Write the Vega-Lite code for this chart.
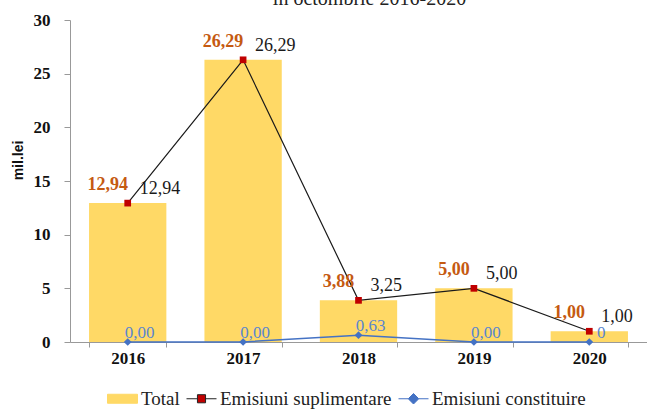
{
  "$schema": "https://vega.github.io/schema/vega-lite/v6.json",
  "width": 577,
  "height": 322,
  "autosize": {"type": "none"},
  "padding": {"left": 70, "top": 20, "right": 0, "bottom": 68},
  "config": {"view": {"stroke": null}},
  "data": {"values": [
    {"year": "2016", "total": 12.94, "constituire": 0, "lt": "12,94", "ls": "12,94", "lc": "0,00"},
    {"year": "2017", "total": 26.29, "constituire": 0, "lt": "26,29", "ls": "26,29", "lc": "0,00"},
    {"year": "2018", "total": 3.88, "constituire": 0.63, "lt": "3,88", "ls": "3,25", "lc": "0,63"},
    {"year": "2019", "total": 5.00, "constituire": 0, "lt": "5,00", "ls": "5,00", "lc": "0,00"},
    {"year": "2020", "total": 1.00, "constituire": 0, "lt": "1,00", "ls": "1,00", "lc": "0"}
  ]},
  "encoding": {
    "x": {"field": "year", "type": "ordinal", "scale": {"paddingInner": 0.33, "paddingOuter": 0.165},
      "axis": {"title": null, "labelAngle": 0, "labelFont": "Liberation Serif", "labelFontWeight": "bold", "labelFontSize": 17, "labelColor": "#111111", "tickBand": "extent", "tickSize": 5, "tickColor": "#999999", "domainColor": "#999999", "labelPadding": 3}}
  },
  "layer": [
    {"mark": {"type": "bar"},
     "encoding": {
       "y": {"field": "total", "type": "quantitative", "scale": {"domain": [0, 30], "nice": false},
         "axis": {"values": [0, 5, 10, 15, 20, 25, 30], "grid": false, "labelFont": "Liberation Serif", "labelFontWeight": "bold", "labelFontSize": 17, "labelColor": "#111111", "tickSize": 6, "labelPadding": 14, "tickColor": "#999999", "domainColor": "#999999", "title": "mil.lei", "titleFont": "Liberation Sans", "titleFontSize": 14, "titleFontWeight": "bold", "titleColor": "#111111", "titleX": -52, "titleY": 140, "titleAngle": 270, "titleAlign": "center", "titleBaseline": "middle"}},
       "color": {"datum": "Total", "type": "nominal",
         "scale": {"domain": ["Total", "Emisiuni suplimentare", "Emisiuni constituire"], "range": ["#FFD966", "#C00000", "#4472C4"]},
         "legend": {"title": null, "orient": "none", "legendX": 37, "legendY": 363, "direction": "horizontal", "labelFont": "Liberation Serif", "labelFontSize": 19, "labelColor": "#222222", "labelLimit": 400, "symbolSize": 900, "columnPadding": 4, "labelOffset": 3,
           "encode": {"symbols": {"update": {
             "shape": {"signal": "datum.value === 'Total' ? 'M-1,-0.3H1V0.3H-1Z' : datum.value === 'Emisiuni suplimentare' ? 'M-1,0H-0.27M0.27,0H1M-0.27,-0.27H0.27V0.27H-0.27Z' : 'M-1,0H-0.35M0.35,0H1M0,-0.35L0.35,0L0,0.35L-0.35,0Z'"},
             "fill": {"signal": "datum.value === 'Total' ? '#FFD966' : datum.value === 'Emisiuni suplimentare' ? '#C00000' : '#4472C4'"},
             "stroke": {"signal": "datum.value === 'Total' ? '#FFD966' : datum.value === 'Emisiuni suplimentare' ? '#222222' : '#4472C4'"},
             "strokeWidth": {"value": 1},
             "opacity": {"value": 1}
           }}}}}
     }},
    {"mark": {"type": "line", "stroke": "#1a1a1a", "strokeWidth": 1.2},
     "encoding": {"y": {"field": "total", "type": "quantitative"}}},
    {"mark": {"type": "line", "stroke": "#4472C4", "strokeWidth": 1.5},
     "encoding": {"y": {"field": "constituire", "type": "quantitative"}}},
    {"mark": {"type": "point", "shape": "square", "filled": true, "size": 45, "opacity": 1},
     "encoding": {"y": {"field": "total", "type": "quantitative"}, "color": {"datum": "Emisiuni suplimentare", "type": "nominal"}}},
    {"mark": {"type": "point", "shape": "diamond", "filled": true, "size": 60, "opacity": 1},
     "encoding": {"y": {"field": "constituire", "type": "quantitative"}, "color": {"datum": "Emisiuni constituire", "type": "nominal"}}},
    {"mark": {"type": "text", "font": "Liberation Serif", "fontSize": 18, "fontWeight": "bold", "color": "#C55A11", "dx": -20, "dy": -18},
     "encoding": {"y": {"field": "total", "type": "quantitative"}, "text": {"field": "lt"}}},
    {"mark": {"type": "text", "font": "Liberation Serif", "fontSize": 18, "color": "#1a1a1a", "align": "left", "dx": 12, "dy": -14},
     "encoding": {"y": {"field": "total", "type": "quantitative"}, "text": {"field": "ls"}}},
    {"mark": {"type": "text", "font": "Liberation Serif", "fontSize": 17, "color": "#5B86CF", "dx": 12, "dy": -9},
     "encoding": {"y": {"field": "constituire", "type": "quantitative"}, "text": {"field": "lc"}}},
    {"data": {"values": [{"t": "în octombrie 2016-2020"}]},
     "mark": {"type": "text", "font": "Liberation Serif", "fontSize": 20, "color": "#222222", "baseline": "alphabetic", "dx": 11},
     "encoding": {"x": {"datum": "2018", "type": "ordinal"}, "y": {"datum": 31.4, "type": "quantitative"}, "text": {"field": "t"}}}
  ]
}
